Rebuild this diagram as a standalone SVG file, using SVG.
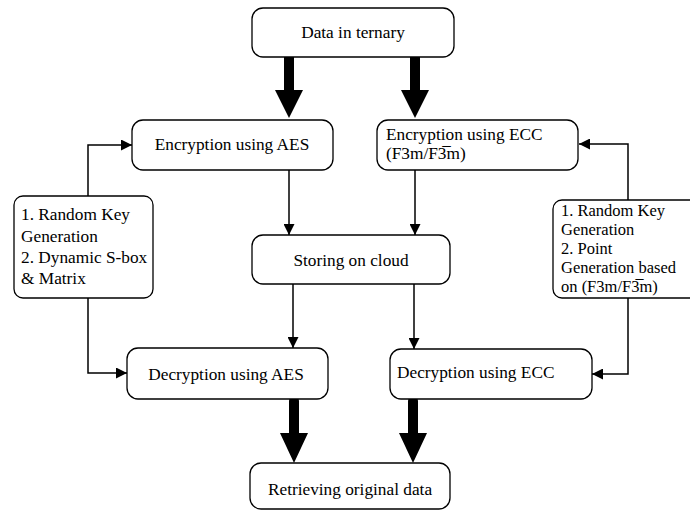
<svg xmlns="http://www.w3.org/2000/svg" width="690" height="511" viewBox="0 0 690 511">
<defs>
<style>
.box{fill:#fff;stroke:#000;stroke-width:1.3}
.t{font-family:'Liberation Serif','DejaVu Serif',serif;font-size:17.3px;fill:#000}
.s{font-size:16.5px}
.c{text-anchor:middle}
.ln{fill:none;stroke:#000;stroke-width:1.5}
.thick{fill:none;stroke:#000;stroke-width:10;stroke-linecap:round}
.head{fill:#000}
</style>
<marker id="ah" viewBox="0 0 10 10" refX="10" refY="5" markerWidth="11" markerHeight="11" markerUnits="userSpaceOnUse" orient="auto">
<path d="M0,0 L10,5 L0,10 z" fill="#000"/>
</marker>
</defs>
<rect width="690" height="511" fill="#fff"/>
<g id="connectors">
<line class="thick" x1="289" y1="55" x2="289" y2="92"/>
<polygon class="head" points="275,90 303,90 289,118"/>
<line class="thick" x1="415" y1="55" x2="415" y2="92"/>
<polygon class="head" points="401,90 429,90 415,118"/>
<line class="ln" x1="289" y1="170" x2="289" y2="235" marker-end="url(#ah)"/>
<line class="ln" x1="415" y1="170" x2="415" y2="235" marker-end="url(#ah)"/>
<line class="ln" x1="293" y1="284" x2="293" y2="348" marker-end="url(#ah)"/>
<line class="ln" x1="414" y1="284" x2="414" y2="349" marker-end="url(#ah)"/>
<polyline class="ln" points="88,196 88,145 132,145" marker-end="url(#ah)"/>
<polyline class="ln" points="88,298 88,373 127,373" marker-end="url(#ah)"/>
<polyline class="ln" points="628,200 628,144 579,144" marker-end="url(#ah)"/>
<polyline class="ln" points="628,298 628,374 592,374" marker-end="url(#ah)"/>
<line class="thick" x1="294" y1="401" x2="294" y2="436"/>
<polygon class="head" points="280,433 308,433 294,463"/>
<line class="thick" x1="413" y1="401" x2="413" y2="436"/>
<polygon class="head" points="399,433 427,433 413,463"/>
</g>
<g id="data">
<rect class="box" x="252" y="8" width="202" height="49" rx="11"/>
<text class="t c" x="353" y="38">Data in ternary</text>
</g>
<g id="enc-aes">
<rect class="box" x="132" y="120" width="201" height="50" rx="11"/>
<text class="t c" x="232" y="150">Encryption using AES</text>
</g>
<g id="enc-ecc">
<rect class="box" x="377" y="120" width="201" height="50" rx="11"/>
<text class="t" x="386" y="140">Encryption using ECC</text>
<text class="t" x="386" y="159">(F3m/F3̅m)</text>
</g>
<g id="aes-keys">
<rect class="box" x="14" y="196" width="139" height="102" rx="9"/>
<text class="t" x="21" y="220">1. Random Key</text>
<text class="t" x="21" y="242">Generation</text>
<text class="t" x="21" y="263">2. Dynamic S-box</text>
<text class="t" x="21" y="284">&amp; Matrix</text>
</g>
<g id="ecc-keys">
<rect class="box" x="553" y="200" width="150" height="98" rx="9"/>
<text class="t s" x="561" y="216">1. Random Key</text>
<text class="t s" x="561" y="235">Generation</text>
<text class="t s" x="561" y="254">2. Point</text>
<text class="t s" x="561" y="273">Generation based</text>
<text class="t s" x="561" y="292">on (F3m/F3̅m)</text>
</g>
<g id="cloud">
<rect class="box" x="252" y="235" width="198" height="49" rx="11"/>
<text class="t c" x="351" y="266">Storing on cloud</text>
</g>
<g id="dec-aes">
<rect class="box" x="127" y="348" width="201" height="51" rx="11"/>
<text class="t c" x="226" y="380">Decryption using AES</text>
</g>
<g id="dec-ecc">
<rect class="box" x="390" y="349" width="202" height="50" rx="11"/>
<text class="t" x="397" y="378">Decryption using ECC</text>
</g>
<g id="retrieve">
<rect class="box" x="250" y="463" width="200" height="46" rx="11"/>
<text class="t c" x="350" y="495">Retrieving original data</text>
</g>
</svg>
